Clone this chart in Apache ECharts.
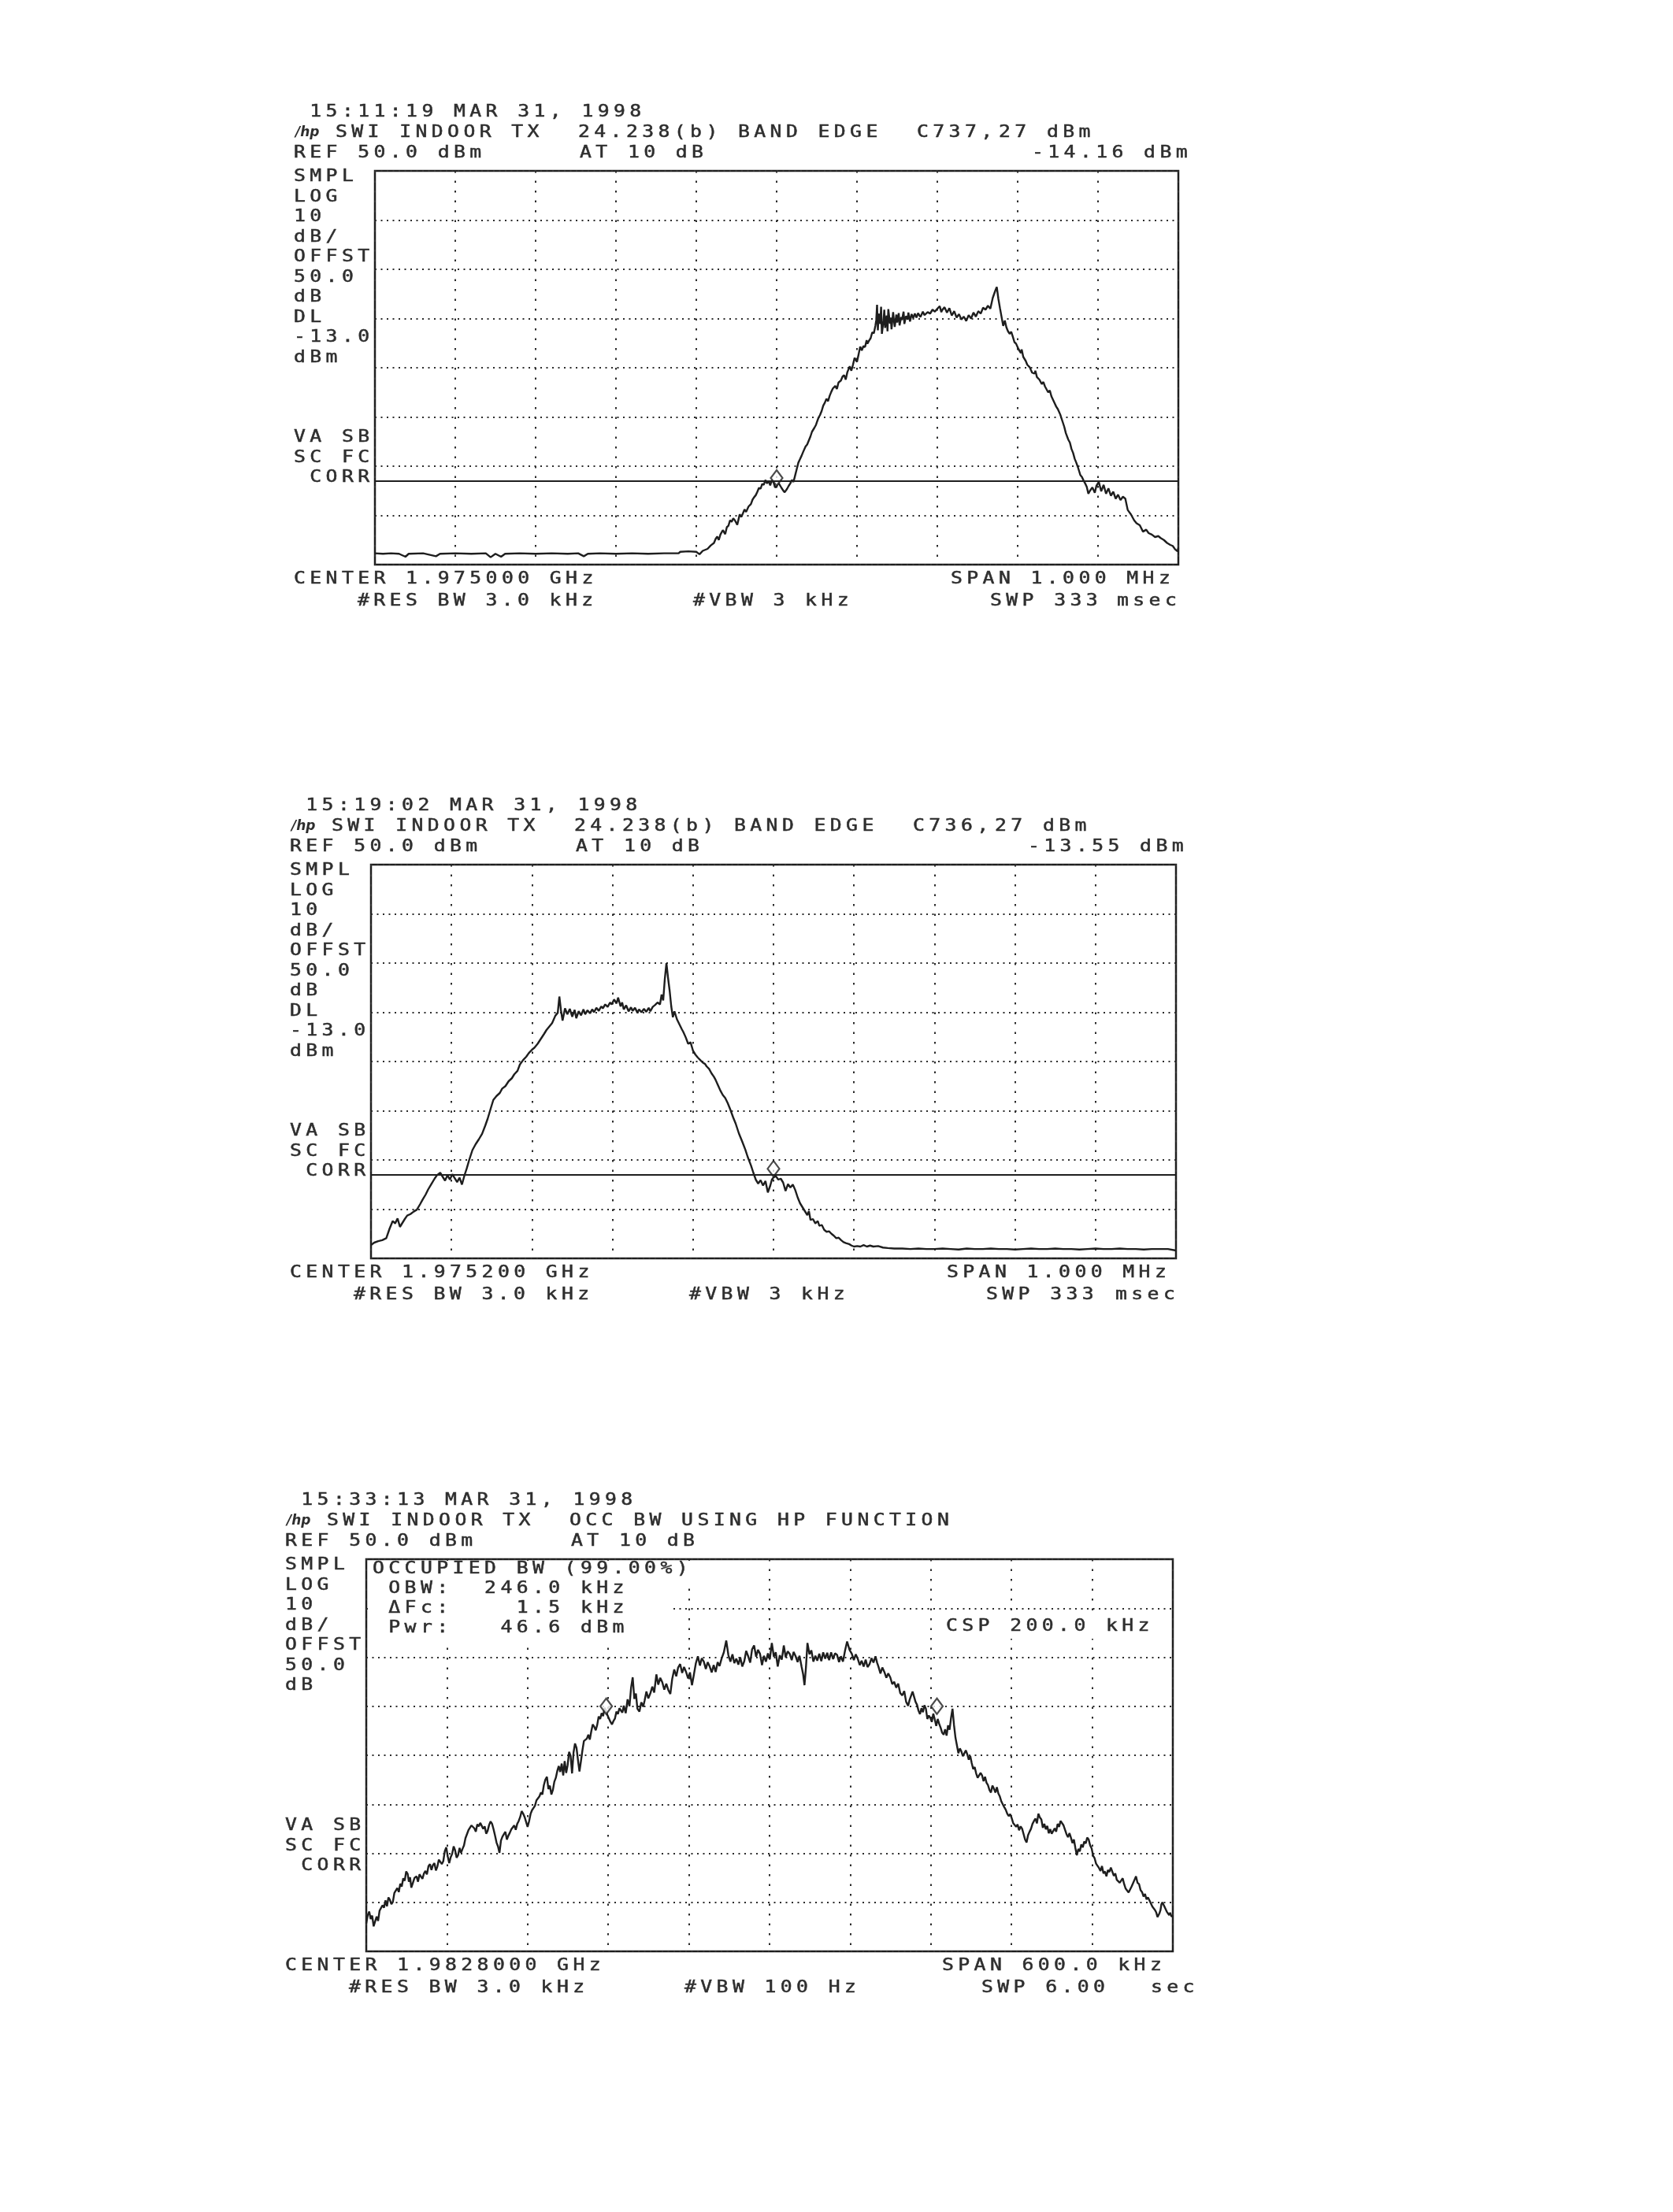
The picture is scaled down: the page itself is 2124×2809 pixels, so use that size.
<!DOCTYPE html>
<html><head><meta charset="utf-8">
<script src="https://cdn.jsdelivr.net/npm/echarts@6/dist/echarts.min.js"></script>
<style>html,body{margin:0;padding:0;background:#fff}#c{width:2124px;height:2809px}</style>
</head><body><div id="c"></div>
<script>
// ---------------- DATA ----------------
// x = offset from center frequency in kHz, y = level in dBm
const trace1 = [[-500,-27.7],[-490,-27.8],[-480,-27.7],[-470,-27.8],[-462,-28.4],[-458,-27.8],[-440,-27.7],[-424,-28.3],[-419,-27.8],[-400,-27.7],[-380,-27.8],[-362,-27.7],[-356,-28.5],[-350,-27.8],[-343,-28.4],[-338,-27.8],[-320,-27.7],[-300,-27.8],[-280,-27.7],[-260,-27.8],[-247,-27.7],[-240,-28.3],[-235,-27.8],[-220,-27.7],[-200,-27.8],[-180,-27.7],[-160,-27.8],[-140,-27.7],[-122,-27.7],[-120,-27.4],[-110,-27.3],[-100,-27.4],[-96,-27.9],[-92,-27.2],[-86,-26.8],[-82,-26.1],[-78,-25.6],[-76,-24.8],[-74,-24.3],[-72,-25.0],[-70,-23.9],[-67,-23.0],[-64,-23.8],[-62,-22.4],[-60,-22.1],[-58,-21.0],[-56,-21.3],[-54,-20.6],[-52,-21.0],[-49,-21.9],[-46,-19.8],[-44,-20.3],[-42,-19.6],[-40,-18.8],[-38,-19.3],[-35,-18.2],[-32,-17.7],[-30,-16.8],[-28,-16.3],[-26,-15.9],[-24,-15.2],[-22,-14.4],[-20,-14.6],[-18,-13.6],[-16,-13.8],[-14,-12.8],[-12,-13.5],[-10,-13.0],[-8,-13.9],[-6,-12.9],[-4,-13.2],[-2,-14.3],[0,-14.16],[2,-13.3],[3,-13.6],[6,-14.4],[8,-14.9],[10,-15.3],[13,-14.6],[15,-14.0],[17,-13.5],[19,-12.8],[21,-13.2],[23,-11.9],[25,-10.6],[27,-9.3],[29,-8.6],[31,-7.9],[33,-7.1],[36,-6.0],[38,-5.6],[40,-4.8],[42,-4.0],[44,-3.0],[47,-2.2],[49,-1.6],[50,-1.1],[52,-0.2],[54,0.4],[56,1.2],[58,2.3],[60,2.9],[62,3.7],[64,3.2],[66,4.3],[68,5.1],[70,5.8],[73,6.3],[75,5.7],[77,7.0],[80,7.4],[82,8.2],[84,8.5],[86,7.6],[88,9.1],[91,10.3],[93,9.4],[95,10.6],[97,12.0],[98,11.9],[100,11.2],[102,12.7],[104,14.3],[106,13.5],[108,14.4],[110,14.2],[112,15.6],[113,14.9],[115,15.5],[117,16.0],[119,17.2],[121,17.0],[123,18.6],[124,19.7],[125,22.8],[126,17.6],[127,21.0],[129,18.9],[130,22.4],[131,16.9],[133,19.5],[134,21.8],[135,18.1],[137,20.6],[138,17.4],[139,21.9],[141,19.0],[142,20.2],[143,17.8],[145,21.3],[146,19.6],[147,18.3],[149,20.8],[150,19.2],[152,21.1],[153,18.6],[155,20.3],[156,19.7],[158,21.4],[159,18.9],[161,20.5],[163,19.8],[164,21.2],[166,19.4],[168,20.9],[170,20.1],[172,21.0],[174,20.2],[176,21.1],[179,20.3],[182,21.4],[184,20.7],[185,20.6],[188,21.3],[191,21.0],[194,21.8],[197,21.4],[200,22.0],[203,22.5],[205,21.3],[206,21.7],[209,22.3],[212,21.2],[215,22.1],[218,20.6],[221,21.5],[224,20.2],[227,20.9],[230,19.8],[233,20.4],[236,19.5],[239,20.7],[242,20.0],[245,21.2],[248,20.4],[251,21.5],[254,21.0],[257,22.2],[260,21.8],[263,22.6],[266,22.0],[269,24.2],[272,25.6],[274,26.4],[276,24.0],[278,22.1],[280,20.3],[282,18.5],[284,19.6],[286,18.2],[288,17.4],[290,16.9],[292,17.3],[294,16.3],[296,15.2],[298,14.9],[301,13.8],[304,13.0],[305,13.7],[307,12.2],[310,11.4],[312,10.6],[315,10.1],[318,9.0],[321,8.8],[322,9.4],[324,8.1],[327,7.6],[330,6.7],[332,7.1],[334,6.2],[338,5.0],[340,5.4],[342,4.2],[346,2.8],[348,2.1],[350,1.6],[353,0.5],[356,-1.0],[358,-2.0],[360,-3.3],[363,-4.6],[365,-5.2],[367,-6.5],[369,-7.3],[371,-8.5],[373,-9.3],[375,-10.2],[378,-11.8],[380,-12.2],[382,-12.9],[384,-13.5],[386,-14.2],[388,-15.6],[390,-15.0],[393,-14.3],[396,-15.4],[398,-14.0],[401,-13.2],[404,-15.1],[407,-13.8],[410,-15.6],[413,-14.5],[416,-16.0],[419,-15.2],[422,-16.6],[425,-15.8],[428,-16.9],[431,-16.2],[434,-16.6],[437,-18.9],[441,-19.8],[445,-21.0],[448,-21.6],[452,-22.0],[456,-23.3],[460,-22.9],[463,-23.6],[467,-23.9],[471,-24.4],[475,-24.2],[478,-24.6],[482,-25.0],[486,-25.6],[490,-26.0],[493,-26.2],[496,-26.9],[499,-27.3],[500,-26.6]];

const trace2 = [[-500,-27.3],[-496,-26.8],[-491,-26.5],[-486,-26.3],[-481,-25.9],[-477,-24.0],[-473,-22.4],[-470,-22.9],[-467,-21.9],[-464,-23.6],[-461,-22.8],[-458,-22.0],[-455,-21.3],[-451,-21.0],[-447,-20.5],[-443,-20.1],[-439,-19.0],[-436,-18.1],[-432,-17.0],[-429,-16.0],[-425,-14.9],[-421,-13.8],[-418,-13.1],[-414,-12.6],[-411,-13.4],[-408,-14.2],[-405,-13.1],[-402,-14.0],[-399,-12.9],[-396,-13.7],[-393,-14.5],[-390,-13.6],[-387,-15.0],[-384,-13.2],[-381,-11.7],[-378,-10.0],[-374,-8.0],[-370,-6.8],[-366,-5.8],[-362,-4.7],[-358,-3.0],[-355,-1.6],[-351,0.6],[-348,2.2],[-344,3.0],[-340,3.6],[-337,4.5],[-333,5.0],[-329,6.0],[-325,6.6],[-322,7.4],[-318,8.1],[-315,9.4],[-311,10.3],[-307,11.0],[-304,11.7],[-300,12.4],[-297,12.8],[-293,13.6],[-289,14.6],[-285,15.6],[-282,16.4],[-278,17.2],[-275,17.8],[-271,19.3],[-268,19.9],[-266,23.2],[-264,20.4],[-262,18.3],[-259,20.8],[-256,19.6],[-253,20.7],[-250,19.1],[-247,20.5],[-245,18.8],[-242,20.2],[-239,19.4],[-236,20.6],[-234,19.6],[-231,20.4],[-228,19.8],[-225,20.6],[-223,20.0],[-220,20.9],[-217,20.3],[-214,21.2],[-212,20.8],[-209,21.6],[-206,21.1],[-203,22.0],[-201,21.6],[-198,22.6],[-195,21.8],[-193,23.0],[-190,21.2],[-188,22.0],[-186,20.6],[-183,21.4],[-180,20.2],[-177,21.0],[-175,20.3],[-172,20.9],[-169,19.9],[-167,20.6],[-164,20.0],[-161,20.7],[-158,20.1],[-155,20.9],[-153,20.2],[-150,21.1],[-147,21.5],[-144,22.0],[-141,21.6],[-139,23.6],[-137,22.4],[-135,26.8],[-133,30.0],[-131,27.0],[-129,24.4],[-127,21.2],[-125,19.0],[-123,20.2],[-120,18.6],[-117,17.6],[-114,16.6],[-112,16.0],[-109,14.9],[-106,13.6],[-103,13.9],[-100,12.2],[-97,11.4],[-94,10.8],[-91,10.3],[-88,9.8],[-85,9.5],[-83,9.0],[-80,8.5],[-77,7.6],[-74,6.9],[-72,6.3],[-69,5.2],[-66,4.1],[-63,3.2],[-60,2.6],[-57,1.6],[-54,0.4],[-50,-1.4],[-47,-2.6],[-43,-4.6],[-39,-6.2],[-35,-7.9],[-32,-9.4],[-28,-11.1],[-25,-12.6],[-22,-14.0],[-19,-14.8],[-16,-14.1],[-13,-15.2],[-10,-14.3],[-7,-16.6],[-4,-15.2],[-2,-14.0],[0,-13.55],[3,-13.3],[6,-14.0],[9,-13.8],[12,-14.6],[15,-16.3],[18,-14.9],[21,-15.6],[24,-15.0],[27,-16.1],[30,-17.6],[33,-18.8],[36,-19.6],[39,-20.4],[42,-21.2],[44,-20.4],[46,-22.2],[49,-22.0],[52,-22.9],[55,-22.4],[57,-23.4],[60,-23.2],[63,-24.2],[66,-24.6],[69,-24.5],[72,-25.0],[75,-25.4],[78,-25.9],[81,-25.8],[84,-26.3],[87,-26.7],[90,-26.9],[94,-27.1],[97,-27.4],[100,-27.6],[104,-27.5],[108,-27.6],[112,-27.3],[116,-27.6],[120,-27.4],[124,-27.6],[130,-27.5],[136,-27.8],[142,-27.9],[150,-28.0],[160,-28.0],[170,-28.1],[180,-28.0],[190,-28.1],[200,-28.1],[210,-28.0],[220,-28.1],[230,-28.2],[240,-28.0],[250,-28.1],[260,-28.1],[270,-28.0],[280,-28.1],[290,-28.1],[300,-28.2],[310,-28.1],[320,-28.0],[330,-28.1],[340,-28.1],[350,-28.0],[360,-28.1],[370,-28.1],[380,-28.2],[390,-28.1],[400,-28.0],[410,-28.1],[420,-28.1],[430,-28.0],[440,-28.1],[450,-28.1],[460,-28.2],[470,-28.1],[480,-28.1],[490,-28.1],[500,-28.4]];

const trace3 = [[-300.0,-24.3],[-298.9,-22.6],[-297.8,-21.9],[-296.7,-23.4],[-295.6,-22.7],[-294.5,-24.9],[-293.4,-24.6],[-292.3,-22.9],[-291.2,-23.8],[-290.1,-21.7],[-289.0,-22.0],[-287.9,-20.6],[-286.8,-21.1],[-285.7,-19.6],[-284.6,-20.8],[-283.5,-19.0],[-282.4,-19.5],[-281.3,-20.4],[-280.2,-19.9],[-279.1,-18.1],[-278.0,-18.4],[-276.9,-17.1],[-275.8,-17.9],[-274.7,-16.2],[-273.6,-16.8],[-272.5,-15.1],[-271.4,-15.6],[-270.3,-13.7],[-269.2,-14.2],[-268.3,-15.8],[-267.4,-14.9],[-266.5,-17.0],[-265.6,-16.3],[-264.1,-15.0],[-262.6,-14.7],[-261.5,-15.8],[-260.4,-14.3],[-259.3,-14.0],[-258.2,-15.2],[-257.1,-14.1],[-256.0,-13.6],[-254.9,-14.3],[-253.7,-12.6],[-252.6,-12.2],[-251.5,-13.4],[-250.4,-12.4],[-249.3,-12.0],[-248.2,-13.5],[-247.1,-12.7],[-246.0,-11.3],[-244.9,-11.0],[-243.8,-12.2],[-242.7,-11.6],[-241.6,-9.6],[-240.5,-8.8],[-239.4,-10.6],[-238.3,-12.0],[-237.2,-10.8],[-236.1,-10.1],[-235.0,-8.6],[-233.9,-9.4],[-232.8,-10.9],[-231.7,-10.4],[-230.6,-8.9],[-229.5,-9.9],[-228.4,-9.1],[-227.3,-8.4],[-226.2,-6.9],[-225.1,-6.1],[-224.0,-5.3],[-222.9,-5.2],[-221.8,-4.3],[-220.7,-4.0],[-219.6,-4.9],[-218.5,-5.6],[-217.4,-4.1],[-216.3,-4.5],[-215.2,-3.8],[-214.1,-3.6],[-213.0,-5.0],[-211.9,-4.5],[-210.8,-6.0],[-209.7,-5.4],[-208.6,-4.2],[-207.5,-3.5],[-206.4,-4.0],[-205.3,-5.1],[-204.2,-6.4],[-203.1,-7.8],[-202.0,-8.6],[-200.9,-9.9],[-199.8,-7.4],[-198.7,-6.6],[-197.6,-6.1],[-196.5,-5.6],[-195.4,-7.2],[-194.3,-6.4],[-193.2,-5.8],[-192.1,-5.1],[-191.0,-4.7],[-189.9,-4.3],[-188.8,-5.2],[-187.7,-4.0],[-186.6,-3.4],[-185.5,-2.6],[-184.4,-1.4],[-183.3,-1.9],[-182.2,-2.6],[-181.1,-2.9],[-180.0,-4.6],[-178.9,-3.5],[-177.8,-2.0],[-176.7,-1.2],[-175.6,-0.9],[-174.5,-0.3],[-173.4,0.8],[-172.3,1.0],[-171.2,1.6],[-170.1,2.4],[-169.0,2.0],[-167.9,3.9],[-166.8,5.0],[-165.6,5.6],[-164.5,3.1],[-163.4,3.8],[-162.3,2.0],[-161.2,2.9],[-160.1,4.6],[-159.0,5.4],[-157.9,6.8],[-156.8,7.8],[-155.7,6.6],[-154.6,8.3],[-153.5,5.9],[-152.4,8.8],[-151.3,6.4],[-150.2,8.0],[-149.1,10.7],[-148.0,9.9],[-146.9,6.3],[-145.8,10.6],[-144.7,12.4],[-143.6,11.5],[-142.5,9.0],[-141.4,6.7],[-140.3,8.8],[-139.2,11.0],[-138.1,12.9],[-137.0,12.6],[-135.9,13.4],[-134.8,14.2],[-133.7,13.2],[-132.6,14.9],[-131.5,16.3],[-130.4,15.8],[-129.3,15.1],[-128.2,16.2],[-127.1,17.9],[-126.0,17.4],[-124.9,18.6],[-123.8,18.0],[-122.7,19.7],[-121.6,19.0],[-120.5,18.1],[-119.4,17.8],[-118.3,16.8],[-117.2,16.3],[-116.1,17.0],[-115.0,17.5],[-113.9,18.9],[-112.8,18.4],[-111.7,19.6],[-110.6,19.3],[-109.5,18.7],[-108.4,20.1],[-107.0,18.6],[-105.6,21.4],[-104.2,20.0],[-103.0,23.8],[-101.8,25.9],[-100.6,21.5],[-99.4,22.6],[-98.3,19.5],[-96.8,18.9],[-95.4,20.8],[-94.0,19.9],[-93.0,21.1],[-91.6,23.0],[-90.2,21.6],[-88.6,22.7],[-87.2,24.0],[-85.8,22.8],[-84.2,26.5],[-82.8,24.4],[-81.3,25.8],[-79.8,24.9],[-78.3,23.4],[-76.8,24.6],[-75.3,23.3],[-73.8,22.5],[-72.4,25.6],[-70.9,27.5],[-69.4,26.1],[-68.0,27.9],[-66.5,28.6],[-65.0,26.8],[-63.6,28.0],[-62.1,27.0],[-60.6,25.7],[-59.2,26.9],[-57.7,24.3],[-56.2,26.6],[-54.8,28.8],[-53.3,30.2],[-51.8,28.3],[-50.4,29.8],[-48.9,29.1],[-47.4,27.6],[-46.0,29.0],[-44.5,28.1],[-43.0,26.9],[-41.6,28.4],[-40.1,27.0],[-38.6,29.0],[-37.2,28.2],[-35.7,29.7],[-34.0,31.0],[-32.2,33.4],[-30.6,30.4],[-29.1,29.1],[-27.6,30.6],[-26.2,28.8],[-24.7,29.7],[-23.2,28.5],[-21.8,30.0],[-20.3,28.1],[-18.8,29.2],[-17.4,31.3],[-15.9,30.2],[-14.4,28.9],[-13.0,31.6],[-11.5,32.4],[-10.0,30.1],[-8.6,31.5],[-7.1,30.7],[-5.6,28.4],[-4.2,30.3],[-2.7,29.1],[-1.2,30.8],[0.2,29.6],[1.7,32.9],[3.2,30.1],[4.6,31.0],[6.1,28.1],[7.6,30.4],[9.1,29.5],[10.6,32.4],[12.0,30.0],[13.5,31.2],[15.0,30.7],[16.5,29.4],[17.9,31.1],[19.4,30.2],[20.9,29.0],[22.3,30.3],[23.8,28.1],[25.0,26.5],[26.0,24.3],[27.1,28.0],[28.2,32.9],[29.7,30.6],[31.1,31.4],[32.6,29.1],[34.1,30.3],[35.5,29.3],[37.0,30.7],[38.5,29.2],[39.9,31.0],[41.4,29.7],[42.9,30.9],[44.3,29.4],[45.8,31.0],[47.3,29.6],[48.7,30.8],[50.2,30.5],[51.7,29.0],[53.1,30.2],[54.6,29.1],[56.2,31.4],[57.7,33.2],[59.5,31.5],[61.2,30.7],[62.7,29.4],[64.1,30.6],[65.6,29.7],[67.1,28.4],[68.5,29.3],[70.0,28.1],[71.5,29.5],[72.9,28.0],[74.4,28.6],[75.9,29.8],[77.3,28.9],[78.8,30.2],[80.0,28.9],[81.0,28.1],[82.5,26.7],[83.9,27.9],[85.4,27.0],[86.9,25.8],[88.3,26.7],[89.8,25.9],[91.3,24.5],[92.7,25.0],[94.2,23.8],[95.7,24.6],[97.2,22.7],[98.7,22.2],[100.2,23.1],[101.6,20.9],[103.1,20.1],[104.2,21.3],[105.3,21.6],[106.4,23.0],[107.5,22.7],[108.6,20.9],[109.7,20.3],[110.8,19.1],[111.9,18.4],[113.0,19.6],[114.1,18.8],[115.2,20.2],[116.3,19.5],[117.4,17.4],[118.5,18.1],[119.6,17.6],[120.7,16.8],[121.8,18.5],[122.9,17.3],[124.0,16.0],[125.1,17.4],[126.2,16.4],[127.3,15.6],[128.4,14.6],[129.5,14.2],[130.6,15.3],[131.7,14.0],[132.8,16.1],[133.9,15.2],[135.0,17.6],[136.1,19.5],[137.2,16.2],[138.3,13.6],[139.4,12.0],[140.5,10.4],[141.6,11.4],[142.7,10.8],[143.8,9.8],[144.9,10.4],[146.0,11.0],[147.1,10.2],[148.2,9.1],[149.3,9.9],[150.4,8.4],[151.5,7.2],[152.6,7.6],[153.7,6.3],[154.8,5.4],[155.9,5.1],[157.0,6.4],[158.1,5.9],[159.2,4.7],[160.3,5.6],[161.4,4.4],[162.5,3.9],[163.6,2.9],[164.7,2.4],[165.8,3.8],[166.9,3.2],[168.0,2.4],[169.1,3.5],[170.2,2.2],[171.3,1.6],[172.4,0.6],[173.5,0.3],[174.6,-0.6],[175.7,-1.1],[176.8,-1.9],[177.9,-2.4],[179.0,-2.0],[180.1,-2.8],[181.2,-3.8],[182.3,-3.5],[183.4,-4.6],[184.5,-4.1],[185.6,-5.3],[186.8,-4.5],[187.9,-5.0],[189.0,-6.1],[190.1,-7.2],[191.2,-7.8],[192.3,-6.3],[193.4,-5.6],[194.5,-5.0],[195.6,-4.0],[196.7,-3.4],[197.8,-2.9],[198.9,-3.9],[200.0,-1.9],[201.1,-2.7],[202.2,-3.1],[203.3,-4.8],[204.4,-4.0],[205.5,-5.1],[206.6,-4.4],[207.7,-5.9],[208.8,-5.1],[209.9,-6.0],[211.0,-5.7],[212.1,-4.9],[213.2,-5.6],[214.3,-4.0],[215.4,-4.6],[216.5,-3.4],[217.6,-3.5],[218.7,-4.3],[219.8,-5.2],[220.9,-6.1],[222.0,-6.7],[223.1,-5.9],[224.2,-6.8],[225.3,-7.9],[226.4,-7.2],[227.5,-8.9],[228.6,-10.4],[229.7,-9.1],[230.8,-9.6],[231.9,-8.2],[233.0,-8.8],[234.1,-7.6],[235.2,-8.0],[236.3,-6.8],[237.4,-7.2],[238.5,-8.4],[239.6,-9.0],[240.7,-10.5],[241.8,-11.0],[242.9,-12.1],[244.0,-12.4],[245.1,-13.0],[246.2,-13.6],[247.3,-12.6],[248.4,-14.1],[249.5,-13.7],[250.6,-14.7],[251.7,-13.4],[252.8,-13.8],[253.9,-12.9],[255.0,-13.1],[256.1,-14.6],[257.2,-14.1],[258.3,-15.4],[259.4,-15.2],[260.5,-16.0],[261.6,-15.8],[262.7,-15.1],[263.8,-16.3],[264.9,-17.2],[266.0,-17.0],[267.1,-18.0],[268.2,-17.9],[269.3,-16.8],[270.4,-16.1],[271.5,-15.4],[272.6,-14.7],[273.7,-16.0],[274.9,-16.3],[276.0,-17.5],[277.1,-17.9],[278.2,-18.8],[279.3,-18.3],[280.4,-19.4],[281.5,-19.0],[282.6,-19.6],[283.7,-19.9],[284.8,-20.9],[285.9,-20.6],[286.8,-21.6],[287.7,-22.1],[288.6,-23.0],[289.4,-23.3],[290.1,-22.2],[290.8,-21.6],[291.5,-20.4],[292.2,-20.0],[293.3,-20.6],[294.4,-20.9],[295.5,-21.9],[296.6,-21.7],[297.3,-22.6],[298.0,-22.1],[299.0,-22.9],[300.0,-22.7]];

const marker1 = [[0, -14.16]];
const marker2 = [[0, -13.55]];
const marker3 = [[-121.5, 20.0], [124.5, 20.0]];
const displayLine = [-13.0, -13.0, null];
const yRange = [-30, 50, 10];             // min, max, dB/div
const xRanges = [[-500, 500, 100], [-500, 500, 100], [-300, 300, 60]];

const timestamps = [' 15:11:19 MAR 31, 1998', ' 15:19:02 MAR 31, 1998', ' 15:33:13 MAR 31, 1998'];
const titleA = ['SWI INDOOR TX', 'SWI INDOOR TX', 'SWI INDOOR TX'];
const titleB = ['24.238(b) BAND EDGE', '24.238(b) BAND EDGE', 'OCC BW USING HP FUNCTION'];
const titleC = ['C737,', 'C736,', ''];
const titleD = ['27 dBm', '27 dBm', ''];
const refLabels = ['REF 50.0 dBm', 'REF 50.0 dBm', 'REF 50.0 dBm'];
const attLabels = ['AT 10 dB', 'AT 10 dB', 'AT 10 dB'];
const readouts = ['-14.16 dBm', '-13.55 dBm', ''];
const sideLabels = [
  ['SMPL', 'LOG', '10', 'dB/', 'OFFST', '50.0', 'dB', 'DL', '-13.0', 'dBm'],
  ['SMPL', 'LOG', '10', 'dB/', 'OFFST', '50.0', 'dB', 'DL', '-13.0', 'dBm'],
  ['SMPL', 'LOG', '10', 'dB/', 'OFFST', '50.0', 'dB']
];
const corrLabels = ['VA SB', 'SC FC', ' CORR'];
const centerLabels = ['CENTER 1.975000 GHz', 'CENTER 1.975200 GHz', 'CENTER 1.9828000 GHz'];
const spanLabels = ['SPAN 1.000 MHz', 'SPAN 1.000 MHz', 'SPAN 600.0 kHz'];
const rbwLabels = ['#RES BW 3.0 kHz', '#RES BW 3.0 kHz', '#RES BW 3.0 kHz'];
const vbwLabels = ['#VBW 3 kHz', '#VBW 3 kHz', '#VBW 100 Hz'];
const swpLabels = ['SWP 333', 'SWP 333', 'SWP 6.00'];
const swpUnits = ['msec', 'msec', 'sec'];
const obwLines = ['OCCUPIED BW (99.00%)', ' OBW:  246.0 kHz', ' ΔFc:    1.5 kHz', ' Pwr:   46.6 dBm'];
const cspLabel = 'CSP 200.0 kHz';

// ---------------- LAYOUT ----------------
const panels = [
  {left: 476, top: 217, w: 1020, h: 500},
  {left: 471, top: 1098, w: 1022, h: 500},
  {left: 465, top: 1980, w: 1024, h: 498}
];
const unitX = [1418, 1416, 1461];
const P = 20.3;               // character pitch of the analyzer font
const FONT = '21px "DejaVu Sans Mono"';
const INK = '#2e2e2e';
const LINE = '#1e1e1e';

function txt(str, x, y, opt) {
  opt = opt || {};
  const out = [];
  for (let i = 0; i < str.length; i++) {
    const ch = str[i];
    if (ch === ' ') continue;
    out.push({type: 'text', x: x + i * P, y: y, z: 10, scaleX: opt.sx || 1.18,
      style: {text: ch, font: opt.font || FONT, fill: INK, stroke: INK, lineWidth: 0.5,
              align: 'left', verticalAlign: 'middle', textAlign: 'left', textVerticalAlign: 'middle'}});
  }
  return out;
}

const graphics = [];
panels.forEach((p, i) => {
  const x0 = p.left - 103;
  const bottom = p.top + p.h;
  graphics.push(...txt(timestamps[i], x0, p.top - 74));
  graphics.push({type: 'text', x: x0 + 2, y: p.top - 48, z: 10,
    style: {text: '/hp', font: 'italic bold 17px "DejaVu Sans"', fill: INK, verticalAlign: 'middle', textVerticalAlign: 'middle'}});
  graphics.push(...txt(titleA[i], x0 + 53, p.top - 48));
  graphics.push(...txt(titleB[i], x0 + 361, p.top - 48));
  if (titleC[i]) graphics.push(...txt(titleC[i], x0 + 791, p.top - 48));
  if (titleD[i]) graphics.push(...txt(titleD[i], x0 + 895, p.top - 48));
  graphics.push(...txt(refLabels[i], x0, p.top - 22));
  graphics.push(...txt(attLabels[i], x0 + 363, p.top - 22));
  if (readouts[i]) graphics.push(...txt(readouts[i], x0 + 937, p.top - 22));
  sideLabels[i].forEach((s, k) => graphics.push(...txt(s, x0, p.top + 8 + 25.5 * k)));
  corrLabels.forEach((s, k) => graphics.push(...txt(s, x0, p.top + 339 + 25.3 * k)));
  graphics.push(...txt(centerLabels[i], x0, bottom + 19));
  graphics.push(...txt(spanLabels[i], x0 + 834, bottom + 19));
  graphics.push(...txt(rbwLabels[i], x0 + 81, bottom + 47));
  graphics.push(...txt(vbwLabels[i], x0 + 507, bottom + 47));
  graphics.push(...txt(swpLabels[i], x0 + 884, bottom + 47));
  graphics.push(...txt(swpUnits[i], unitX[i], bottom + 47));
});
// occupied bandwidth annotation box (panel 3)
(function () {
  const p = panels[2];
  graphics.push({type: 'rect', z: 5, shape: {x: p.left + 2, y: p.top + 2, width: 416, height: 32}, style: {fill: '#fff'}});
  graphics.push({type: 'rect', z: 5, shape: {x: p.left + 2, y: p.top + 2, width: 386, height: 104}, style: {fill: '#fff'}});
  graphics.push(...txt(obwLines[0], p.left + 8, p.top + 13));
  for (let k = 1; k < 4; k++) graphics.push(...txt(obwLines[k], p.left + 8, p.top + 13 + 25 * k));
  graphics.push({type: 'rect', z: 5, shape: {x: p.left + 730, y: p.top + 71, width: 290, height: 30}, style: {fill: '#fff'}});
  graphics.push(...txt(cspLabel, p.left + 736, p.top + 86));
})();

const traces = [trace1, trace2, trace3];
const markers = [marker1, marker2, marker3];

const option = {
  backgroundColor: '#fff',
  animation: false,
  grid: panels.map(p => ({left: p.left, top: p.top, width: p.w, height: p.h, show: true,
    borderColor: LINE, borderWidth: 2.5, backgroundColor: 'transparent', containLabel: false})),
  xAxis: xRanges.map((r, i) => ({type: 'value', gridIndex: i, min: r[0], max: r[1], interval: r[2],
    axisLine: {show: false}, axisTick: {show: false}, axisLabel: {show: false},
    splitLine: {show: true, lineStyle: {color: '#2c2c2c', width: 2, type: [2.5, 10]}}})),
  yAxis: panels.map((p, i) => ({type: 'value', gridIndex: i, min: yRange[0], max: yRange[1], interval: yRange[2],
    axisLine: {show: false}, axisTick: {show: false}, axisLabel: {show: false},
    splitLine: {show: true, lineStyle: {color: '#2c2c2c', width: 1.8, type: [2, 5.5]}}})),
  series: [],
  graphic: {elements: graphics}
};
traces.forEach((t, i) => {
  const s = {type: 'line', xAxisIndex: i, yAxisIndex: i, data: t, showSymbol: false, symbol: 'none',
    lineStyle: {color: LINE, width: 2.4}, z: 3, clip: true};
  if (displayLine[i] !== null) {
    s.markLine = {silent: true, symbol: 'none', label: {show: false}, animation: false,
      lineStyle: {type: 'solid', color: LINE, width: 2}, data: [{yAxis: displayLine[i]}]};
  }
  option.series.push(s);
  option.series.push({type: 'scatter', xAxisIndex: i, yAxisIndex: i, data: markers[i], symbol: 'diamond',
    symbolSize: [15, 20], symbolOffset: i < 2 ? [0, -11] : [0, 0], z: 4,
    itemStyle: {color: '#fff', borderColor: LINE, borderWidth: 2.2}});
});

const chart = echarts.init(document.getElementById('c'), null, {renderer: 'canvas'});
chart.setOption(option);
</script></body></html>
